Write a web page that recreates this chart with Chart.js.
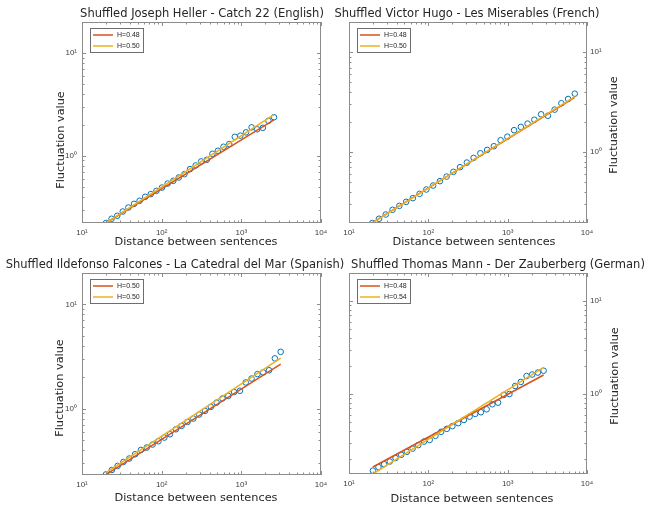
<!DOCTYPE html>
<html>
<head>
<meta charset="utf-8">
<title>Shuffled texts - fluctuation analysis</title>
<script src="https://cdn.jsdelivr.net/npm/chart.js@4.4.0/dist/chart.umd.min.js"></script>
<style>
  html, body { margin: 0; padding: 0; background: #fff; }
  #wrap { position: relative; width: 646px; height: 506px; }
  #wrap canvas { position: absolute; left: 0; top: 0; }
</style>
</head>
<body>
<div id="wrap">
  <canvas id="c1" width="646" height="506"></canvas>
  <canvas id="c2" width="646" height="506"></canvas>
  <canvas id="c3" width="646" height="506"></canvas>
  <canvas id="c4" width="646" height="506"></canvas>
</div>
<script>
// Fluctuation vs. distance, shuffled texts (log-log)

const COLORS = {
  blue: '#0072BD',
  red: '#D95319',
  yellow: '#EDB120',
  axis: '#8c8c8c',
  text: '#262626',
};

// ── Data ───────────────────────────────────────────────────

const titles = [
  'Shuffled Joseph Heller - Catch 22 (English)',
  'Shuffled Victor Hugo - Les Miserables (French)',
  'Shuffled Ildefonso Falcones - La Catedral del Mar (Spanish)',
  'Shuffled Thomas Mann - Der Zauberberg (German)',
];
const xAxisLabel = 'Distance between sentences';
const yAxisLabel = 'Fluctuation value';

const xTickValues = [10, 100, 1000, 10000];
const xTickLabels = ['10¹', '10²', '10³', '10⁴'];
const yTickValues = [1, 10];
const yTickLabels = ['10⁰', '10¹'];

const yMins = [0.222, 0.194, 0.23, 0.138];
const yMax = 20;

// Catch 22
const dist1 = [20, 23.5, 27.7, 32.5, 38.2, 45, 52.8, 62.1, 73, 85.9, 101, 119, 140, 164, 193, 227,
  267, 313, 368, 434, 509, 598, 705, 828, 973, 1145, 1346, 1581, 1862, 2188, 2570];
const fluct1 = [0.222, 0.244, 0.261, 0.287, 0.314, 0.341, 0.365, 0.399, 0.424, 0.456, 0.491, 0.537,
  0.571, 0.615, 0.663, 0.742, 0.805, 0.881, 0.914, 1.045, 1.119, 1.224, 1.30, 1.53, 1.57, 1.69,
  1.89, 1.81, 1.87, 2.19, 2.37];
const fitX1 = [20, 2570];
const fitRed1 = [0.222, 2.24];
const fitYellow1 = [0.222, 2.51];
const hLabels1 = ['H=0.48', 'H=0.50'];

// Les Miserables
const dist2 = [19.7, 23.9, 29.1, 35.4, 43.1, 52.5, 63.8, 77.6, 94.4, 115, 140, 170, 207, 251, 306,
  372, 453, 551, 670, 815, 991, 1205, 1466, 1783, 2168, 2640, 3212, 3908, 4753, 5781, 7015];
const fluct2 = [0.194, 0.214, 0.236, 0.263, 0.288, 0.316, 0.344, 0.380, 0.420, 0.460, 0.509, 0.566,
  0.631, 0.703, 0.782, 0.871, 0.970, 1.047, 1.14, 1.31, 1.42, 1.65, 1.78, 1.92, 2.10, 2.38, 2.30,
  2.65, 3.07, 3.39, 3.83];
const fitX2 = [19.7, 7015];
const fitRed2 = [0.196, 3.52];
const fitYellow2 = [0.194, 3.57];
const hLabels2 = ['H=0.48', 'H=0.50'];

// La Catedral del Mar
const dist3 = [20, 23.7, 28, 33.1, 39.2, 46.4, 54.9, 65, 76.9, 91, 108, 127, 151, 178, 211, 250,
  296, 350, 414, 490, 580, 686, 811, 960, 1135, 1343, 1592, 1884, 2228, 2636, 3119];
const fluct3 = [0.233, 0.257, 0.281, 0.307, 0.331, 0.364, 0.400, 0.422, 0.451, 0.485, 0.526, 0.566,
  0.632, 0.681, 0.743, 0.801, 0.875, 0.948, 1.036, 1.14, 1.25, 1.32, 1.44, 1.48, 1.78, 1.94, 2.14,
  2.22, 2.33, 3.03, 3.50];
const fitX3 = [20, 3119];
const fitRed3 = [0.232, 2.67];
const fitYellow3 = [0.242, 3.05];
const hLabels3 = ['H=0.50', 'H=0.50'];

// Der Zauberberg
const dist4 = [20, 23.5, 27.7, 32.7, 38.6, 45.5, 53.7, 63.4, 74.6, 88.1, 104, 123, 145, 171, 201,
  238, 281, 331, 390, 460, 543, 641, 757, 892, 1052, 1242, 1466, 1730, 2037, 2404, 2838];
const fluct4 = [0.150, 0.164, 0.176, 0.188, 0.205, 0.222, 0.239, 0.259, 0.282, 0.308, 0.321, 0.355,
  0.392, 0.422, 0.451, 0.486, 0.526, 0.571, 0.611, 0.637, 0.685, 0.776, 0.807, 0.976, 1.0, 1.22,
  1.35, 1.56, 1.62, 1.70, 1.78];
const fitX4 = [20, 2838];
const fitRed4 = [0.164, 1.60];
const fitYellow4 = [0.138, 1.93];
const hLabels4 = ['H=0.48', 'H=0.54'];

// ── Layout (pixel boxes of each axes and its texts) ───────

const W = 646, H = 506;
const Y_AXIS_W = 40, X_AXIS_H = 20;
const panels = [
  { id: 'c1', box: { l: 82, r: 321, t: 22, b: 223 }, ySide: 'left',
    titlePos: [202, 14], xLabelPos: [196, 242], yLabelPos: [61, 140],
    dist: dist1, fluct: fluct1, fitX: fitX1, red: fitRed1, yellow: fitYellow1, hLabels: hLabels1 },
  { id: 'c2', box: { l: 349, r: 587, t: 22, b: 223 }, ySide: 'right',
    titlePos: [467, 14], xLabelPos: [474, 242], yLabelPos: [614, 125],
    dist: dist2, fluct: fluct2, fitX: fitX2, red: fitRed2, yellow: fitYellow2, hLabels: hLabels2 },
  { id: 'c3', box: { l: 82, r: 321, t: 273, b: 475 }, ySide: 'left',
    titlePos: [175, 265], xLabelPos: [196, 498], yLabelPos: [60, 388],
    dist: dist3, fluct: fluct3, fitX: fitX3, red: fitRed3, yellow: fitYellow3, hLabels: hLabels3 },
  { id: 'c4', box: { l: 349, r: 587, t: 273, b: 474 }, ySide: 'right',
    titlePos: [498, 265], xLabelPos: [472, 499], yLabelPos: [615, 376],
    dist: dist4, fluct: fluct4, fitX: fitX4, red: fitRed4, yellow: fitYellow4, hLabels: hLabels4 },
];

// ── Frame plugin: box, inward ticks, texts, legend ────────

const framePlugin = {
  id: 'frame',
  afterDraw(chart, args, o) {
    const { ctx, chartArea: a } = chart;
    const x = chart.scales.x, y = chart.scales.y;
    ctx.save();

    ctx.strokeStyle = COLORS.axis;
    ctx.lineWidth = 1;
    ctx.strokeRect(a.left + 0.5, a.top + 0.5, a.right - a.left - 1, a.bottom - a.top - 1);

    ctx.beginPath();
    for (let e = -1; e < 5; e++) {
      for (let m = 1; m < 10; m++) {
        const v = m * Math.pow(10, e);
        const len = m === 1 ? 4 : 2.5;
        if (v >= x.min && v <= x.max) {
          const px = Math.round(x.getPixelForValue(v)) + 0.5;
          ctx.moveTo(px, a.bottom); ctx.lineTo(px, a.bottom - len);
          ctx.moveTo(px, a.top); ctx.lineTo(px, a.top + len);
        }
        if (v >= y.min && v <= y.max) {
          const py = Math.round(y.getPixelForValue(v)) + 0.5;
          ctx.moveTo(a.left, py); ctx.lineTo(a.left + len, py);
          ctx.moveTo(a.right, py); ctx.lineTo(a.right - len, py);
        }
      }
    }
    ctx.stroke();

    // texts
    ctx.fillStyle = COLORS.text;
    ctx.textAlign = 'center';
    ctx.textBaseline = 'middle';
    ctx.font = '11.5px "DejaVu Sans"';
    ctx.fillText(o.title, o.titlePos[0], o.titlePos[1]);
    ctx.font = '11.3px "DejaVu Sans"';
    ctx.fillText(xAxisLabel, o.xLabelPos[0], o.xLabelPos[1]);
    ctx.save();
    ctx.translate(o.yLabelPos[0], o.yLabelPos[1]);
    ctx.rotate(-Math.PI / 2);
    ctx.fillText(yAxisLabel, 0, 0);
    ctx.restore();

    // legend
    const lx = a.left + 8, ly = a.top + 6, lw = 53, lh = 24;
    ctx.fillStyle = '#fff';
    ctx.fillRect(lx, ly, lw, lh);
    ctx.strokeStyle = '#6e6e6e';
    ctx.strokeRect(lx + 0.5, ly + 0.5, lw, lh);
    const items = [
      { color: COLORS.red, text: o.hLabels[0] },
      { color: COLORS.yellow, text: o.hLabels[1] },
    ];
    ctx.font = '7px "Liberation Sans"';
    ctx.textAlign = 'left';
    items.forEach((it, i) => {
      const yy = ly + 7 + i * 11;
      ctx.strokeStyle = it.color;
      ctx.lineWidth = 1.5;
      ctx.beginPath();
      ctx.moveTo(lx + 3, yy); ctx.lineTo(lx + 23, yy);
      ctx.stroke();
      ctx.fillStyle = COLORS.text;
      ctx.fillText(it.text, lx + 27, yy + 0.5);
    });

    ctx.restore();
  },
};

// ── Charts ────────────────────────────────────────────────

function toPoints(xs, ys) {
  return xs.map((v, i) => ({ x: v, y: ys[i] }));
}

const tickFont = { family: '"Liberation Sans"', size: 8 };

panels.forEach((p, idx) => {
  const b = p.box;
  const padding = p.ySide === 'left'
    ? { left: b.l - Y_AXIS_W, right: W - b.r, top: b.t, bottom: H - b.b - X_AXIS_H }
    : { left: b.l, right: W - b.r - Y_AXIS_W, top: b.t, bottom: H - b.b - X_AXIS_H };

  new Chart(document.getElementById(p.id), {
    type: 'scatter',
    data: {
      datasets: [{
        label: p.hLabels[0],
        data: toPoints(p.fitX, p.red),
        showLine: true,
        borderColor: COLORS.red,
        borderWidth: 1.5,
        pointRadius: 0,
        order: 1,
      }, {
        label: p.hLabels[1],
        data: toPoints(p.fitX, p.yellow),
        showLine: true,
        borderColor: COLORS.yellow,
        borderWidth: 1.5,
        pointRadius: 0,
        order: 0,
      }, {
        label: 'data',
        data: toPoints(p.dist, p.fluct),
        showLine: false,
        pointStyle: 'circle',
        pointRadius: 2.8,
        borderWidth: 1,
        borderColor: COLORS.blue,
        backgroundColor: 'rgba(0,0,0,0)',
        order: 2,
      }],
    },
    options: {
      responsive: false,
      animation: false,
      devicePixelRatio: 1,
      layout: { padding },
      plugins: {
        legend: { display: false },
        tooltip: { enabled: false },
        frame: {
          title: titles[idx],
          titlePos: p.titlePos,
          xLabelPos: p.xLabelPos,
          yLabelPos: p.yLabelPos,
          hLabels: p.hLabels,
        },
      },
      scales: {
        x: {
          type: 'logarithmic', position: 'bottom', min: 10, max: 10000,
          afterBuildTicks: s => { s.ticks = xTickValues.map(v => ({ value: v })); },
          afterFit: s => { s.height = X_AXIS_H; },
          grid: { display: false, drawTicks: false },
          border: { display: false },
          ticks: {
            callback: (v, i) => xTickLabels[i],
            font: tickFont, color: '#404040', padding: 5,
            maxRotation: 0, autoSkip: false,
          },
        },
        y: {
          type: 'logarithmic', position: p.ySide, min: yMins[idx], max: yMax,
          afterBuildTicks: s => { s.ticks = yTickValues.map(v => ({ value: v })); },
          afterFit: s => { s.width = Y_AXIS_W; },
          grid: { display: false, drawTicks: false },
          border: { display: false },
          ticks: {
            callback: (v, i) => yTickLabels[i],
            font: tickFont, color: '#404040', padding: p.ySide === 'left' ? 5 : 3,
            autoSkip: false,
          },
        },
      },
    },
    plugins: [framePlugin],
  });
});
</script>
</body>
</html>
